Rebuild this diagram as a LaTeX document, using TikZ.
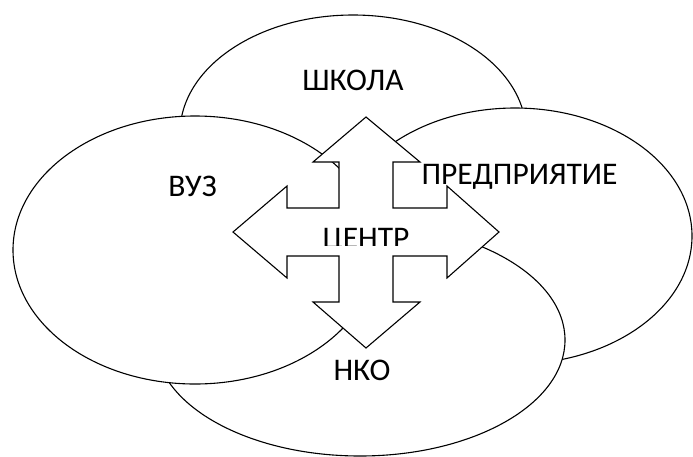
\documentclass[tikz,border=0pt]{standalone}
\usepackage{fontspec}
\setmainfont{Carlito}
\usetikzlibrary{shapes.geometric}
\tikzset{
  blob/.style={ellipse, draw=black, fill=white, line width=1.1pt, inner sep=0pt},
  lbl/.style={anchor=base, inner sep=0pt, font=\fontsize{31.5}{38}\selectfont},
  quad/.style={draw=black, fill=white, line width=1.1pt, line join=miter}
}
\begin{document}
\begin{tikzpicture}[x=1pt,y=-1pt]
\useasboundingbox[fill=white] (0,0) rectangle (693,456);
% ellipses, back to front
\node[blob, minimum width=346pt, minimum height=236pt] (shkola) at (353,133) {};
\node[blob, minimum width=354pt, minimum height=256pt] (pred) at (515,236) {};
\node[blob, minimum width=410pt, minimum height=232pt] (nko) at (360,340) {};
\node[blob, minimum width=364pt, minimum height=268pt] (vuz) at (195,250) {};
% four-way arrow
\coordinate (c) at (366,232);
\begin{scope}[shift={(c)}]
\draw[quad] (0,-115) -- (54,-70) -- (27,-70) -- (27,-24) -- (81,-24) -- (81,-46)
  -- (133,0) -- (81,46) -- (81,24) -- (27,24) -- (27,70) -- (54,70)
  -- (0,116) -- (-53,70) -- (-27,70) -- (-27,24) -- (-79,24) -- (-79,46)
  -- (-133,0) -- (-79,-46) -- (-79,-24) -- (-27,-24) -- (-27,-70) -- (-53,-70) -- cycle;
\end{scope}
% labels
\node[lbl] (tshkola) at (353,90) {ШКОЛА};
\node[lbl] (tpred) at (519.5,184.3) {ПРЕДПРИЯТИЕ};
\node[lbl] (tvuz) at (192.5,196.7) {ВУЗ};
\node[lbl] (tnko) at (362,380) {НКО};
\begin{scope}
\clip (233,117) rectangle (499,245.3);
\node[lbl] (tcentr) at (366,248.2) {ЦЕНТР};
\end{scope}
\end{tikzpicture}
\end{document}
